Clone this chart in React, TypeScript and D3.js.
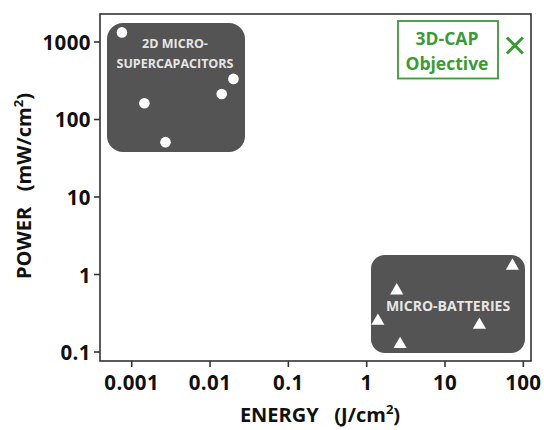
import React from "react";
import * as d3 from "d3";

const xTicks = [0.001, 0.01, 0.1, 1, 10, 100];
const xTickLabels = ["0.001", "0.01", "0.1", "1", "10", "100"];
const yTicks = [0.1, 1, 10, 100, 1000];
const yTickLabels = ["0.1", "1", "10", "100", "1000"];

const capEnergy = [0.00075, 0.00145, 0.0027, 0.0141, 0.0199];
const capPower = [1330, 162, 51, 213, 334];

const batEnergy = [72.6, 2.42, 1.39, 27.5, 2.67];
const batPower = [1.29, 0.618, 0.251, 0.223, 0.126];

const objEnergy = [78];
const objPower = [900];

const W = 544, H = 430;
const left = 100, right = 531, top = 14, bottom = 361;

export default function App() {
  const x = d3.scaleLog().domain([Math.pow(10, -3.405), Math.pow(10, 2.098)]).range([left, right]);
  const y = d3.scaleLog().domain([Math.pow(10, -1.116), Math.pow(10, 3.361)]).range([bottom, top]);
  const tri = d3.symbol().type(d3.symbolTriangle).size(75)();
  const font = "'Open Sans', sans-serif";
  const green = "#3a9a35";
  return (
    <svg width={W} height={H} style={{ display: "block", position: "absolute", left: 0, top: 0 }} fontFamily={font}>
      <rect x={0} y={0} width={W} height={H} fill="#fff" />
      {/* group boxes */}
      <rect x={107} y={23} width={138} height={129} rx={16} fill="#545454" />
      <text x={175} y={48} textAnchor="middle" fill="#e6e6e6" fontSize={12.5} fontWeight={700}>2D MICRO-</text>
      <text x={175} y={68} textAnchor="middle" fill="#e6e6e6" fontSize={12.5} fontWeight={700}>SUPERCAPACITORS</text>
      <rect x={371} y={255} width={154} height={98} rx={14} fill="#545454" />
      <text x={448} y={311} textAnchor="middle" fill="#e6e6e6" fontSize={14} fontWeight={700}>MICRO-BATTERIES</text>
      {/* objective box */}
      <rect x={398} y={21} width={100} height={57.5} fill="#fff" stroke={green} strokeWidth={1.8} />
      <text x={447} y={45} textAnchor="middle" fill={green} fontSize={17.5} fontWeight={700}>3D-CAP</text>
      <text x={447} y={69.5} textAnchor="middle" fill={green} fontSize={17.5} fontWeight={700}>Objective</text>
      {/* points */}
      {capEnergy.map((e, i) => (
        <circle key={"c" + i} cx={x(e)} cy={y(capPower[i])} r={5.3} fill="#fff" />
      ))}
      {batEnergy.map((e, i) => (
        <path key={"t" + i} d={tri} transform={`translate(${x(e)},${y(batPower[i])})`} fill="#fff" />
      ))}
      {objEnergy.map((e, i) => {
        const cx = x(e), cy = y(objPower[i]);
        const s = 8;
        return (
          <path key={"o" + i} d={`M${cx - s},${cy - s}L${cx + s},${cy + s}M${cx - s},${cy + s}L${cx + s},${cy - s}`} stroke={green} strokeWidth={3} fill="none" />
        );
      })}
      {/* frame */}
      <rect x={left} y={top} width={right - left} height={bottom - top} fill="none" stroke="#333" strokeWidth={1.6} />
      {/* x ticks */}
      {xTicks.map((t, i) => (
        <g key={"xt" + i}>
          <line x1={x(t)} x2={x(t)} y1={bottom} y2={bottom + 6} stroke="#333" strokeWidth={1.6} />
          <text x={x(t)} y={bottom + 29} textAnchor="middle" fontSize={20.5} fontWeight={700} letterSpacing={0.4} fill="#111">{xTickLabels[i]}</text>
        </g>
      ))}
      {yTicks.map((t, i) => (
        <g key={"yt" + i}>
          <line x1={left - 6} x2={left} y1={y(t)} y2={y(t)} stroke="#333" strokeWidth={1.6} />
          <text x={left - 9} y={y(t) + 8} textAnchor="end" fontSize={20.5} fontWeight={700} letterSpacing={0.4} fill="#111">{yTickLabels[i]}</text>
        </g>
      ))}
      <text x={320} y={422} textAnchor="middle" fontSize={20} fontWeight={700} fill="#111">
        ENERGY{"\u00a0\u00a0\u00a0"}(J/cm<tspan fontSize={13} dy={-8}>2</tspan><tspan dy={8}>)</tspan>
      </text>
      <text transform="translate(30.5,186) rotate(-90)" textAnchor="middle" fontSize={20} fontWeight={700} fill="#111">
        POWER{"\u00a0\u00a0\u00a0"}(mW/cm<tspan fontSize={13} dy={-8}>2</tspan><tspan dy={8}>)</tspan>
      </text>
    </svg>
  );
}
